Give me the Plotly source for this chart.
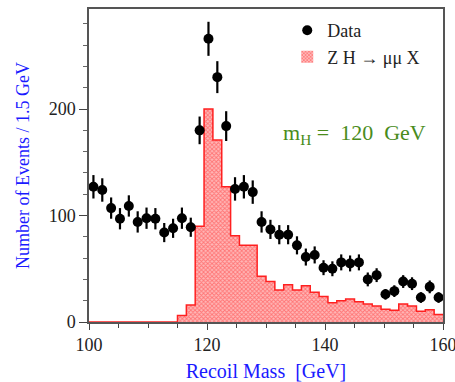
import plotly.graph_objects as go

# Bin edges: 1.5 GeV bins from 100 to 160
bin_width = 1.5
x_min, x_max = 100.0, 160.0
n_bins = 40
centers = [x_min + bin_width * (i + 0.5) for i in range(n_bins)]
edges = [x_min + bin_width * i for i in range(n_bins + 1)]

data_counts = [127, 124, 107, 97, 109, 94, 97.5, 97, 84, 88,
               97.5, 89, 180, 266, 230, 184, 125, 127, 122, 94,
               87, 82, 82, 72, 61, 63, 51, 50, 56, 55,
               56, 40, 44, 26, 29, 38, 36, 23, 33, 23]
data_errors = [11, 11, 10, 10, 10, 10, 10, 10, 9, 9,
               10, 9, 13, 16, 15, 14, 11, 11, 11, 10,
               9, 9, 9, 8.5, 8, 8, 7, 7, 7.5, 7.5,
               7.5, 6.5, 6.5, 5, 5.5, 6, 6, 5, 6, 5]

signal_counts = [0, 0, 0, 0, 0, 0, 0, 0, 0, 0,
                 6, 16, 90, 200, 171, 127, 81, 72, 72, 43,
                 38, 30, 35, 30, 34, 28, 24, 18, 20, 21.5,
                 19, 17, 15, 12, 11, 17, 15, 10, 11.5, 7]

y_ticks = [0, 100, 200]
x_ticks = [100, 120, 140, 160]

serif = "Liberation Serif"
blue = "#1a1aff"
red = "#ff2020"
green = "#4a8c1c"

fig = go.Figure()

# Signal histogram (patterned fill)
fig.add_trace(go.Bar(
    x=centers, y=signal_counts, width=bin_width,
    name="Z H \u2192 \u03bc\u03bc X",
    marker=dict(color="#ffffff",
                line=dict(width=0),
                pattern=dict(shape="x", fgcolor="#ff3030", bgcolor="#ffb8b8",
                             size=3, solidity=0.5)),
    showlegend=True,
))

# Histogram outline
fig.add_trace(go.Scatter(
    x=edges, y=signal_counts + [signal_counts[-1]],
    mode="lines", line=dict(color=red, width=1.5, shape="hv"),
    showlegend=False, hoverinfo="skip",
))

# Data points
fig.add_trace(go.Scatter(
    x=centers, y=data_counts, mode="markers", name="Data",
    marker=dict(color="black", size=10),
    error_y=dict(type="data", array=data_errors, color="black",
                 thickness=2.2, width=0),
))

fig.add_annotation(
    x=0.957, y=0.6, xref="paper", yref="paper", xanchor="right", yanchor="middle",
    text="m<sub>H</sub> =  120  GeV", showarrow=False,
    font=dict(family=serif, size=22, color=green),
)

fig.update_layout(
    width=455, height=382,
    margin=dict(l=89, r=12, t=9, b=60),
    paper_bgcolor="white", plot_bgcolor="white",
    bargap=0,
    legend=dict(x=0.56, y=0.99, xanchor="left", yanchor="top",
                font=dict(family=serif, size=18, color="#222"),
                bgcolor="rgba(0,0,0,0)", traceorder="reversed",
                itemwidth=30, tracegroupgap=0),
    xaxis=dict(range=[x_min, x_max], tickvals=x_ticks, automargin=False,
               ticklabeloverflow="allow",
               ticks="outside", ticklen=6, tickcolor="#444", tickwidth=1,
               minor=dict(dtick=5, ticks="outside", ticklen=4, tickcolor="#444"),
               showline=True, linecolor="#555", linewidth=1.5, mirror=True,
               showgrid=False, zeroline=False,
               tickfont=dict(family=serif, size=18, color="#222"),
               title=dict(text="Recoil Mass  [GeV]",
                          font=dict(family=serif, size=20, color=blue),
                          standoff=12)),
    yaxis=dict(range=[0, 294], tickvals=y_ticks, automargin=False,
               ticks="outside", ticklen=8, tickcolor="#444", tickwidth=1,
               minor=dict(dtick=20, ticks="outside", ticklen=4, tickcolor="#666"),
               showline=True, linecolor="#555", linewidth=1.5, mirror=True,
               showgrid=False, zeroline=False,
               tickfont=dict(family=serif, size=18, color="#222"),
               title=dict(text="Number of Events / 1.5 GeV",
                          font=dict(family=serif, size=18, color=blue),
                          standoff=14)),
)

fig.write_html("out.html")
